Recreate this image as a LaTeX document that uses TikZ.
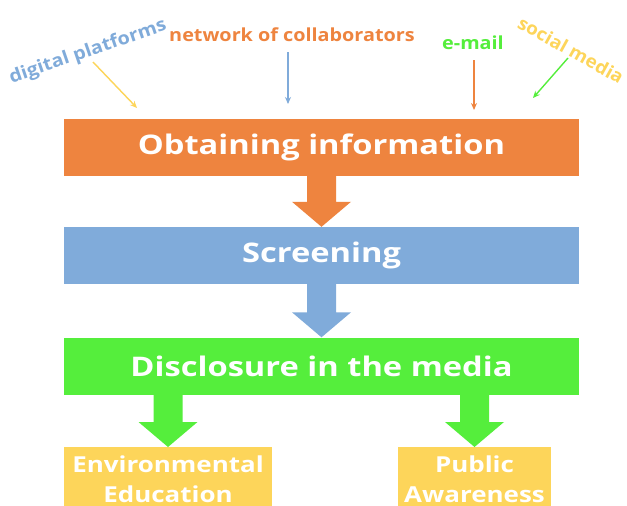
\documentclass[tikz,border=0pt]{standalone}
\usepackage{fontspec}
\setmainfont{Open Sans}
\usetikzlibrary{calc,arrows.meta}
\definecolor{cOrange}{HTML}{EE843F}
\definecolor{cBlue}{HTML}{80ABDA}
\definecolor{cGreen}{HTML}{55EE3C}
\definecolor{cYellow}{HTML}{FDD55A}
\newcommand\wideA[1]{\scalebox{1.21}[1]{#1}}
\newcommand\wideB[1]{\scalebox{1.18}[1]{#1}}
\newcommand\wideC[1]{\scalebox{1.1}[1]{#1}}
\newcommand\blockarr[3]{%
  \fill[#1] ($(#2)+(-14.5,0)$) -- ($(#3)+(-14.5,-25)$) -- ($(#3)+(-29.5,-25)$) -- (#3)
    -- ($(#3)+(29.5,-25)$) -- ($(#3)+(14.5,-25)$) -- ($(#2)+(14.5,0)$) -- cycle;}
\begin{document}
\begin{tikzpicture}[x=1pt,y=-1pt,
  mainbox/.style={minimum width=515pt,minimum height=57pt,inner sep=0pt,text=white,
    font=\fontsize{27}{30}\bfseries\selectfont},
  endbox/.style={fill=cYellow,inner sep=0pt,text=white,align=center,anchor=north,
    font=\fontsize{22}{30}\bfseries\selectfont},
  lbl/.style={font=\fontsize{18}{20}\bfseries\selectfont,inner sep=0pt},
  thin/.style={line width=1.4pt,-{Stealth[length=7pt,width=6pt]}}]
\useasboundingbox (0,0) rectangle (627,506);
\fill[white] (0,0) rectangle (627,506);
% main boxes
\node[mainbox,fill=cOrange] (obt) at (321.5,147.5) {\raisebox{-2pt}{\wideA{Obtaining information}}};
\node[mainbox,fill=cBlue] (scr) at (321.5,255.5) {\raisebox{-2pt}{\wideA{Screening}}};
\node[mainbox,fill=cGreen] (dis) at (321.5,366) {\raisebox{-1pt}{\wideA{Disclosure in the media}}};
% end boxes
\node[endbox,minimum width=208pt,minimum height=64pt] (env) at (168,447) {\wideB{Environmental}\\\wideB{Education}};
\node[endbox,minimum width=153pt,minimum height=64pt] (pub) at (474.5,447) {\wideB{Public}\\\wideB{Awareness}};
% block arrows
\blockarr{cOrange}{obt.south}{scr.north}
\blockarr{cBlue}{scr.south}{dis.north}
\coordinate (g1) at (env.north |- dis.south);
\coordinate (g2) at (pub.north |- dis.south);
\blockarr{cGreen}{g1}{env.north}
\blockarr{cGreen}{g2}{pub.north}
% labels
\node[lbl,text=cBlue,rotate=19] (dp) at (88,52) {\wideC{digital platforms}};
\node[lbl,text=cOrange] (nc) at (292,35) {\wideC{network of collaborators}};
\node[lbl,text=cGreen] (em) at (473,43) {\wideC{e-mail}};
\node[lbl,text=cYellow,rotate=-29] (sm) at (571,50) {\scalebox{1.05}[1]{social media}};
% thin arrows
\coordinate (ya) at (93,62);  \coordinate (yb) at (137,108);
\coordinate (ba) at (288,52); \coordinate (bb) at (288,104);
\coordinate (oa) at (474,60); \coordinate (ob) at (474,110);
\coordinate (ga) at (568,58); \coordinate (gb) at (533,98);
\draw[thin,cYellow] (ya) -- (yb);
\draw[thin,cBlue] (ba) -- (bb);
\draw[thin,cOrange] (oa) -- (ob);
\draw[thin,cGreen] (ga) -- (gb);
\end{tikzpicture}
\end{document}
